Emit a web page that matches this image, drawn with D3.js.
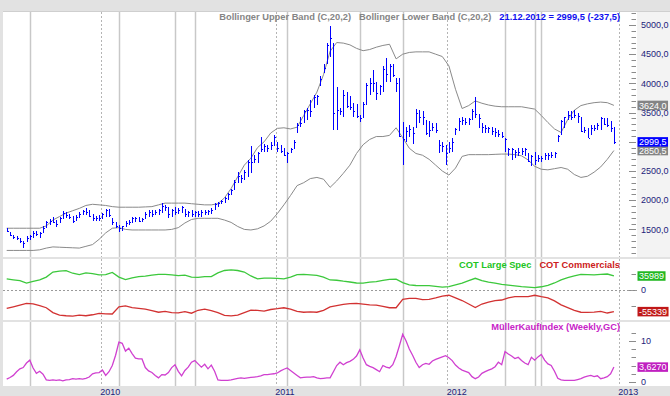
<!DOCTYPE html>
<html><head><meta charset="utf-8">
<script src="https://cdn.jsdelivr.net/npm/d3@7"></script>
<style>html,body{margin:0;padding:0;background:#fff}svg{display:block}</style>
</head><body><svg id="c" width="670" height="396"></svg>
<script>
// ---------------- DATA (weekly bars, Friday dates) ----------------
const firstDate = "2009-06-12";
const lastDate = "2012-12-21";
const high = [1530,1460,1410,1390,1350,1300,1380,1400,1470,1470,
1460,1550,1650,1680,1720,1660,1720,1810,1790,1770,
1730,1750,1790,1840,1860,1840,1770,1730,1750,1780,
1850,1850,1690,1630,1580,1560,1640,1660,1710,1720,
1710,1690,1790,1830,1830,1840,1850,1950,1920,1890,
1850,1890,1860,1900,1850,1810,1830,1810,1810,1840,
1840,1840,1860,1950,1975,2010,2060,2120,2200,2350,
2490,2430,2520,2690,2920,2780,2830,3090,2970,2950,
3000,3120,3000,2950,2890,2830,2890,3030,3320,3430,
3550,3580,3720,3800,3800,4120,4340,4690,4990,4690,
3940,3580,3890,3860,3780,3660,3640,3460,3690,4000,
4090,4230,4030,3970,4290,4430,4340,4340,4090,4090,
3340,3260,3290,3260,3560,3550,3520,3380,3350,3320,
3320,3030,3000,2950,3000,3060,3230,3400,3430,3400,
3400,3570,3770,3480,3320,3290,3260,3260,3230,3200,
3170,3060,2890,2890,2860,2890,2890,2890,2800,2780,
2830,2780,2750,2800,2800,2830,2830,3120,3380,3430,
3520,3520,3550,3490,3430,3260,3230,3290,3290,3320,
3430,3400,3400,3350,3260];
const low = [1450,1390,1330,1320,1260,1190,1290,1320,1360,1390,
1360,1440,1520,1580,1610,1540,1610,1670,1700,1680,
1610,1640,1700,1740,1750,1710,1650,1640,1650,1670,
1720,1710,1580,1520,1450,1480,1540,1570,1610,1630,
1620,1620,1680,1720,1720,1740,1740,1780,1810,1700,
1710,1750,1760,1780,1720,1710,1720,1720,1710,1720,
1750,1740,1760,1840,1890,1930,1950,2010,2090,2180,
2290,2290,2350,2400,2460,2630,2630,2830,2830,2830,
2860,2920,2830,2800,2750,2630,2800,2880,3150,3260,
3320,3380,3430,3580,3630,3950,4170,4340,4460,3200,
3200,3460,3430,3580,3550,3430,3400,3340,3400,3630,
3800,3860,3710,3800,3860,4030,4030,4110,3860,3090,
2600,3000,3090,2970,3230,3320,3290,3120,3090,3180,
3150,2800,2830,2600,2800,2830,3120,3180,3290,3290,
3290,3370,3400,3230,3150,3150,3150,3120,3090,3090,
3060,2830,2750,2690,2720,2750,2780,2750,2660,2580,
2600,2660,2660,2690,2690,2720,2720,3000,3120,3230,
3380,3380,3400,3320,3170,3150,3060,3120,3180,3200,
3200,3290,3260,3170,2960];
const close = [1480,1410,1370,1350,1300,1270,1350,1380,1440,1420,
1440,1530,1620,1650,1630,1600,1700,1780,1740,1720,
1640,1720,1760,1820,1790,1730,1700,1690,1700,1760,
1830,1750,1620,1560,1520,1550,1610,1630,1690,1690,
1650,1680,1770,1800,1760,1800,1830,1900,1880,1760,
1830,1790,1830,1880,1760,1790,1760,1790,1770,1800,
1790,1820,1840,1930,1960,1990,2040,2100,2180,2320,
2420,2380,2480,2660,2650,2700,2800,2880,2920,2900,
2950,3080,2900,2850,2780,2800,2880,3000,3280,3330,
3520,3550,3520,3760,3780,4080,4260,4650,4780,3500,
3550,3520,3800,3620,3600,3520,3450,3400,3640,3970,
4000,4000,3830,3950,4240,4160,4300,4150,4000,3100,
3050,3190,3220,3150,3500,3430,3420,3150,3200,3260,
3200,2950,2920,2810,2890,2990,3220,3360,3380,3340,
3390,3530,3480,3400,3250,3240,3240,3180,3170,3140,
3100,3040,2870,2880,2830,2830,2850,2880,2670,2750,
2690,2720,2730,2780,2770,2780,2800,3100,3350,3420,
3460,3420,3460,3450,3190,3200,3070,3240,3240,3280,
3410,3300,3290,3237,2999.5];

// Bollinger bands, read every second week (bars 0,2,4,...)
const upperBand = [1520,1520,1520,1520,1520,1520,1560,1660,1720,1780,
1820,1860,1910,1930,1920,1910,1890,1880,1880,1880,
1880,1885,1890,1920,1950,1950,1950,1950,1940,1930,
1920,1920,1940,2040,2200,2400,2600,2720,2900,3000,
3150,3230,3240,3220,3250,3450,3650,3850,4150,4550,
4700,4690,4660,4600,4560,4580,4620,4650,4670,4420,
4500,4530,4540,4540,4540,4500,4460,4300,3900,3570,
3620,3700,3660,3630,3610,3600,3600,3600,3600,3580,
3560,3450,3330,3220,3160,3380,3540,3620,3650,3670,
3680,3670,3624];
const lowerBand = [1140,1140,1140,1140,1140,1150,1180,1200,1195,1190,
1185,1180,1210,1240,1330,1440,1520,1530,1500,1490,
1490,1490,1490,1490,1490,1500,1530,1610,1670,1690,
1690,1690,1690,1660,1620,1550,1500,1490,1510,1560,
1640,1770,1920,2080,2250,2300,2370,2390,2360,2220,
2330,2460,2600,2800,2950,3040,3090,3090,3110,3240,
3070,2890,2800,2770,2700,2600,2500,2430,2550,2750,
2780,2780,2780,2780,2785,2790,2790,2780,2760,2690,
2580,2530,2520,2540,2560,2530,2440,2390,2410,2480,
2570,2700,2850.5];

// COT net positions, read every second week
const cotLargeSpec = [28300,26000,24000,17500,22000,26000,33000,46000,48500,49700,
43000,39500,44000,42000,38600,39500,45000,33000,26500,31000,
34500,35500,38000,40300,40300,39000,37000,38000,33000,32500,
34300,34300,44000,50000,51400,50000,46000,36000,28500,30500,
30500,29800,28500,33000,39500,40000,38600,37500,33000,25700,
25000,22500,20500,18000,17500,20000,21500,24500,27500,28000,
19000,13000,11500,11100,11100,9500,7500,8500,13000,17500,
24000,30000,24000,20000,17500,14600,12500,10500,8500,7200,
6000,8300,12000,18000,26000,32000,36000,40000,39500,39000,
40300,41000,35989];
const cotCommercials = [-47100,-43000,-38600,-34500,-35500,-40000,-45500,-58000,-64300,-66000,
-66800,-64500,-66000,-63500,-60000,-61000,-61500,-43000,-40500,-45000,
-47100,-49000,-53000,-57000,-55000,-58000,-58500,-55500,-59500,-52000,
-49000,-53000,-58000,-65000,-66500,-64500,-58000,-51400,-52500,-54000,
-50000,-48000,-45500,-49000,-55000,-57000,-56000,-57000,-52000,-43500,
-40000,-37000,-35000,-34500,-36000,-38000,-39000,-42000,-45500,-45500,
-24000,-21400,-21400,-24500,-24000,-20000,-15500,-13500,-20000,-27000,
-36000,-45000,-36000,-31000,-27000,-25700,-20000,-17200,-17200,-17200,
-13500,-17000,-20000,-28000,-38000,-45000,-52000,-57000,-57500,-56500,
-55000,-59000,-55339];

// MüllerKaufIndex, weekly
const mki = [0.7,1.1,1.6,2.5,3.2,3.5,4.6,5.3,3.4,2.1,
2.6,1.9,0.5,0.4,0.5,0.4,0.5,0.3,0.5,0.6,
0.8,0.7,0.8,0.7,0.9,1.2,2.0,2.2,2.3,2.9,
1.6,2.5,4.0,6.5,9.7,9.4,7.5,8.2,6.9,5.8,
5.6,5.6,3.5,2.7,2.3,1.6,1.0,1.8,1.7,2.3,
3.5,4.2,2.6,1.5,2.8,3.6,4.8,5.2,4.4,3.6,
4.3,3.2,4.1,2.6,0.5,0.4,0.4,0.4,0.5,0.7,
0.9,1.0,0.9,1.0,1.1,1.2,1.3,1.5,1.8,1.8,
1.9,2.0,2.2,2.7,3.1,3.4,2.8,2.2,1.6,1.0,
1.1,1.2,1.2,1.3,1.0,0.8,0.9,1.0,1.0,2.5,
4.0,4.8,4.2,4.7,5.0,5.5,6.3,7.8,5.8,4.2,
3.8,3.5,3.0,2.5,4.0,3.6,3.4,4.2,6.2,8.8,
11.6,10.0,8.0,6.5,4.8,3.5,4.2,4.5,4.3,5.1,
5.5,5.8,6.1,6.4,5.9,5.2,4.1,3.4,2.9,2.6,
2.3,1.3,0.8,1.2,2.1,2.5,2.9,3.2,3.7,4.8,
4.2,7.4,6.8,6.3,5.7,6.0,5.2,4.6,4.2,6.0,
5.3,6.1,6.7,5.3,4.4,4.0,2.6,0.9,0.5,0.4,
0.4,0.4,0.4,0.6,0.8,1.2,1.4,1.6,1.3,1.5,
0.8,1.0,1.3,2.0,3.627];

// MKI signal weeks (solid vertical markers)
const signalDates = ["2009-07-31","2010-02-05","2010-06-04","2010-07-16","2011-01-28",
  "2011-07-01","2011-09-30","2012-05-04","2012-07-06","2012-07-20"];
const yearLabels = ["2010","2011","2012","2013"];
const priceTicks = [1500,2000,2500,3500,4000,4500,5000];
const mkiTicks = [0,10];
const cotTicks = [0];

// ---------------- LAYOUT ----------------
const W = 670, H = 396;
const parse = d3.timeParse("%Y-%m-%d");
const dates = d3.timeFriday.range(parse(firstDate), d3.timeDay.offset(parse(lastDate), 1));
const n = dates.length;
const xIdx = d3.scaleLinear().domain([0, n - 1]).range([6.7, 613.9]);
const x = d => xIdx(d3.timeFriday.count(dates[0], d));

const P = {left: 3, right: 637, mainTop: 12, mainBot: 257, cotTop: 259, cotBot: 320, mkiTop: 322, mkiBot: 386};
const yP = d3.scaleLinear().domain([1000, 5000]).range([258.6, 25]);
const yC = d3.scaleLinear().domain([-60000, 40000]).range([313.4, 274.4]);
const yM = d3.scaleLinear().domain([0, 10]).range([382, 340.8]);

const svg = d3.select("#c");
const FONT = "'Liberation Sans', Arial, sans-serif";
const NAVY = "#22227a";

svg.append("rect").attr("width", W).attr("height", H).attr("fill", "#e2e2e2");
// panels
svg.append("rect").attr("x", P.left).attr("y", P.mainTop).attr("width", P.right - P.left).attr("height", P.mainBot - P.mainTop).attr("fill", "#fff");
svg.append("rect").attr("x", P.right).attr("y", P.mainTop).attr("width", W - P.right).attr("height", P.mainBot - P.mainTop).attr("fill", "#f3f3f3");
svg.append("rect").attr("x", P.left).attr("y", P.cotTop).attr("width", W - P.left).attr("height", P.cotBot - P.cotTop).attr("fill", "#fff");
svg.append("rect").attr("x", P.left).attr("y", P.mkiTop).attr("width", W - P.left).attr("height", P.mkiBot - P.mkiTop).attr("fill", "#fff");

const defs = svg.append("defs");
[["cm", P.mainTop, P.mainBot], ["cc", P.cotTop, P.cotBot], ["ck", P.mkiTop, P.mkiBot]].forEach(([id, t, b]) => {
  defs.append("clipPath").attr("id", id).append("rect").attr("x", P.left).attr("y", t).attr("width", P.right - P.left).attr("height", b - t);
});

// vertical lines: year boundaries (dotted) and signals (solid)
const yearX = yearLabels.map(y => {
  const f = d3.timeFriday.ceil(new Date(+y, 0, 1));
  return xIdx(d3.timeFriday.count(dates[0], f) - 0.5);
});
const panelsY = [[P.mainTop, P.mainBot], [P.cotTop, P.cotBot], [P.mkiTop, P.mkiBot]];
const grid = svg.append("g");
panelsY.forEach(([t, b]) => {
  signalDates.forEach(s => {
    const xx = Math.round(x(parse(s))) + 0.5;
    grid.append("line").attr("x1", xx).attr("x2", xx).attr("y1", t).attr("y2", b)
      .attr("stroke", "#c8c8c8").attr("stroke-width", 1.5);
  });
  yearX.forEach(xv => {
    const xx = Math.round(xv) + 0.5;
    grid.append("line").attr("x1", xx).attr("x2", xx).attr("y1", t).attr("y2", b)
      .attr("stroke", "#b4b4b4").attr("stroke-width", 1).attr("stroke-dasharray", "2,2");
  });
});

// ---------------- MAIN PANEL ----------------
const gm = svg.append("g").attr("clip-path", "url(#cm)");
const bandIdx = upperBand.map((_, k) => k * 2);
const bandLine = arr => d3.line().x((v, k) => xIdx(bandIdx[k])).y(v => yP(v))(arr);
gm.append("path").attr("d", bandLine(upperBand)).attr("fill", "none").attr("stroke", "#8a8a8a").attr("stroke-width", 1);
gm.append("path").attr("d", bandLine(lowerBand)).attr("fill", "none").attr("stroke", "#8a8a8a").attr("stroke-width", 1);

const bars = gm.append("g").attr("stroke", "#0000ff").attr("shape-rendering", "crispEdges");
dates.forEach((d, i) => {
  const xx = Math.round(x(d)) + 0.5;
  bars.append("line").attr("x1", xx).attr("x2", xx).attr("y1", yP(high[i])).attr("y2", yP(low[i])).attr("stroke-width", 1);
  const yc = Math.round(yP(close[i])) + 0.5;
  bars.append("line").attr("x1", xx).attr("x2", xx + 1.5).attr("y1", yc).attr("y2", yc).attr("stroke-width", 1);
});

// price axis
const ax = svg.append("g");
d3.range(1100, 5300, 100).forEach(v => {
  const yy = Math.round(yP(v)) + 0.5;
  if (yy < P.mainTop || yy > P.mainBot) return;
  const major = v % 500 === 0;
  ax.append("line").attr("x1", major ? 629 : 631.5).attr("x2", 636).attr("y1", yy).attr("y2", yy)
    .attr("stroke", "#8c8c8c").attr("stroke-width", 1);
});
const fmt1 = v => d3.format(".1f")(v).replace(".", ",").replace("−", "-");
priceTicks.forEach(v => {
  ax.append("text").attr("x", 641).attr("y", yP(v) + 3.2).text(fmt1(v))
    .attr("font-family", FONT).attr("font-size", 9).attr("fill", NAVY);
});

// legend rows
function legendRow(items, yBase, rightX) {
  const g = svg.append("g");
  let cx = rightX;
  for (let k = items.length - 1; k >= 0; k--) {
    const t = g.append("text").attr("y", yBase).text(items[k].text)
      .attr("font-family", FONT).attr("font-size", 9.3).attr("font-weight", "bold").attr("fill", items[k].color)
      .attr("text-anchor", "end").attr("x", cx);
    cx -= t.node().getComputedTextLength() + 8;
  }
}
const fmtDate = d3.timeFormat("%d.%m.%Y");
const lastClose = close[n - 1], prevClose = close[n - 2];
legendRow([
  {text: "Bollinger Upper Band (C,20,2)", color: "#858585"},
  {text: "Bollinger Lower Band (C,20,2)", color: "#858585"},
  {text: `${fmtDate(dates[n - 1])} = ${fmt1(lastClose)} (${fmt1(lastClose - prevClose)})`, color: "#1010f0"}
], 20, 620);

// ---------------- COT PANEL ----------------
const gc = svg.append("g").attr("clip-path", "url(#cc)");
gc.append("line").attr("x1", P.left).attr("x2", P.right).attr("y1", Math.round(yC(0)) + 0.5).attr("y2", Math.round(yC(0)) + 0.5)
  .attr("stroke", "#9a9a9a").attr("stroke-dasharray", "2,2");
const cotLine = arr => d3.line().x((v, k) => xIdx(k * 2)).y(v => yC(v))(arr);
gc.append("path").attr("d", cotLine(cotLargeSpec)).attr("fill", "none").attr("stroke", "#3cc83c").attr("stroke-width", 1.3);
gc.append("path").attr("d", cotLine(cotCommercials)).attr("fill", "none").attr("stroke", "#d23232").attr("stroke-width", 1.3);
legendRow([
  {text: "COT Large Spec", color: "#22c422"},
  {text: "COT Commercials", color: "#cc2020"}
], 268, 620);
[40000, 0, -40000].forEach(v => {
  const yy = Math.round(yC(v)) + 0.5;
  ax.append("line").attr("x1", v === 0 ? 629 : 631.5).attr("x2", 636).attr("y1", yy).attr("y2", yy).attr("stroke", "#8c8c8c");
});
cotTicks.forEach(v => ax.append("text").attr("x", 641).attr("y", yC(v) + 3.2).text(v)
  .attr("font-family", FONT).attr("font-size", 9).attr("fill", NAVY));

// ---------------- MKI PANEL ----------------
const gk = svg.append("g").attr("clip-path", "url(#ck)");
gk.append("path").attr("d", d3.line().x((v, i) => xIdx(i)).y(v => yM(v))(mki))
  .attr("fill", "none").attr("stroke", "#d040d0").attr("stroke-width", 1.3);
legendRow([{text: "MüllerKaufIndex (Weekly,GC)", color: "#c824c8"}], 330, 620);
d3.range(0, 14, 2).forEach(v => {
  const yy = Math.round(yM(v)) + 0.5;
  ax.append("line").attr("x1", v % 10 === 0 ? 629 : 631.5).attr("x2", 636).attr("y1", yy).attr("y2", yy).attr("stroke", "#8c8c8c");
});
mkiTicks.forEach(v => ax.append("text").attr("x", 641).attr("y", yM(v) + 3.2).text(v)
  .attr("font-family", FONT).attr("font-size", 9).attr("fill", NAVY));

// year labels
yearLabels.forEach((y, k) => {
  svg.append("text").attr("x", yearX[k] - 0.5).attr("y", 395).text(y)
    .attr("font-family", FONT).attr("font-size", 9).attr("fill", NAVY);
});

// ---------------- VALUE BOXES ----------------
function box(yy, bg, txt) {
  const g = svg.append("g");
  const t = g.append("text").attr("x", 639).attr("y", yy + 3.3).text(txt)
    .attr("font-family", FONT).attr("font-size", 9).attr("fill", "#fff");
  const w = t.node().getComputedTextLength();
  g.insert("rect", "text").attr("x", 637.5).attr("y", yy - 4.7).attr("width", w + 3).attr("height", 9.5).attr("fill", bg);
}
const lastU = upperBand[upperBand.length - 1], lastL = lowerBand[lowerBand.length - 1];
box(yP(lastU), "#848484", fmt1(lastU));
box(yP(lastL), "#848484", fmt1(lastL));
box(yP(lastClose), "#0000ff", fmt1(lastClose));
const lastG = cotLargeSpec[cotLargeSpec.length - 1], lastR = cotCommercials[cotCommercials.length - 1];
box(yC(lastG), "#22b822", String(lastG));
box(yC(lastR), "#c01818", String(lastR));
box(yM(mki[n - 1]), "#c020c0", d3.format(".4f")(mki[n - 1]).replace(".", ","));

// top border line
svg.append("line").attr("x1", P.left).attr("x2", W).attr("y1", P.mainTop - 0.5).attr("y2", P.mainTop - 0.5).attr("stroke", "#cfcfcf");
</script></body></html>
